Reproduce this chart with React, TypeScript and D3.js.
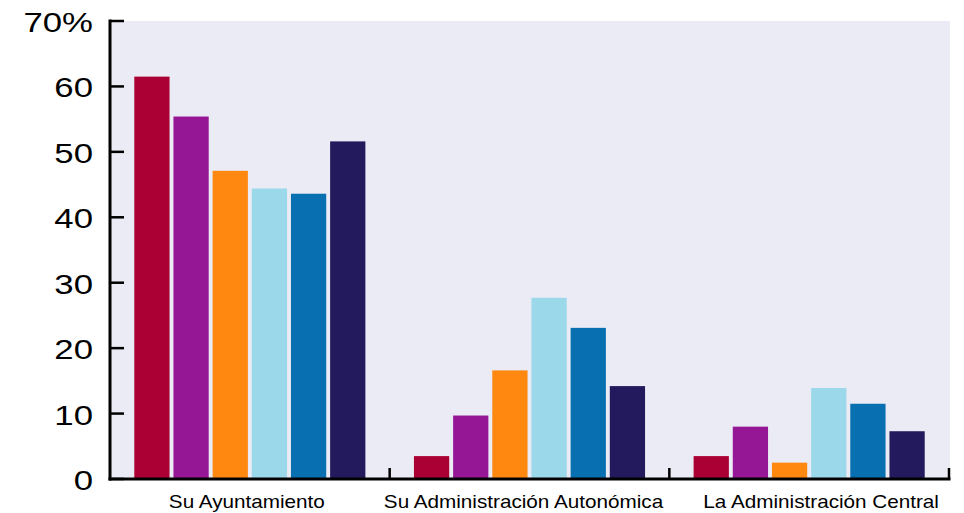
import { useEffect, useRef } from "react"
import * as d3 from "d3"

const categories = ["Su Ayuntamiento", "Su Administración Autonómica", "La Administración Central"]
const seriesNames = ["s1", "s2", "s3", "s4", "s5", "s6"]
const seriesColors = ["#AA0033", "#951795", "#FF8811", "#9BD9EA", "#0870B0", "#231A5E"]
const values: number[][] = [
  [61.5, 55.4, 47.1, 44.4, 43.6, 51.6],
  [3.5, 9.7, 16.6, 27.7, 23.1, 14.2],
  [3.5, 8.0, 2.5, 13.9, 11.5, 7.3],
]
const yTicks = [0, 10, 20, 30, 40, 50, 60, 70]

export default function App() {
  const svgRef = useRef<SVGSVGElement>(null)

  useEffect(() => {
    if (!svgRef.current) return
    const svg = d3.select(svgRef.current)
    svg.selectAll("*").remove()

    const left = 110
    const right = 949
    const top = 21
    const bottom = 479
    const font = "Liberation Sans, Arial, sans-serif"
    // the original text is drawn a bit wider than Arial
    const labelNudge = [-3, -6, 12]

    const x0 = d3.scaleBand<string>().domain(categories).range([left, right]).paddingInner(0).paddingOuter(0)
    const x1 = d3
      .scaleBand<string>()
      .domain(seriesNames)
      .range([0, x0.bandwidth()])
      .paddingInner(0.1)
      .paddingOuter(0.62)
    const y = d3.scaleLinear().domain([0, 70]).range([bottom, top])

    svg
      .append("rect")
      .attr("x", left)
      .attr("y", top)
      .attr("width", right - left + 1)
      .attr("height", bottom - top)
      .attr("fill", "#EBEBF5")

    const groups = svg
      .selectAll(".grp")
      .data(categories)
      .enter()
      .append("g")
      .attr("transform", (d) => `translate(${x0(d)},0)`)

    groups
      .selectAll("rect")
      .data((_, i) => values[i].map((v, j) => ({ v, j })))
      .enter()
      .append("rect")
      .attr("x", (d) => x1(seriesNames[d.j]) as number)
      .attr("width", x1.bandwidth())
      .attr("y", (d) => y(d.v))
      .attr("height", (d) => bottom - y(d.v))
      .attr("fill", (d) => seriesColors[d.j])

    // y axis
    svg
      .append("line")
      .attr("x1", left)
      .attr("x2", left)
      .attr("y1", top - 1.5)
      .attr("y2", bottom + 1.5)
      .attr("stroke", "#000")
      .attr("stroke-width", 3)

    svg
      .selectAll(".ytick")
      .data(yTicks)
      .enter()
      .append("line")
      .attr("x1", left)
      .attr("x2", left + 14)
      .attr("y1", (d) => y(d))
      .attr("y2", (d) => y(d))
      .attr("stroke", "#000")
      .attr("stroke-width", 2.5)

    svg
      .selectAll(".ylab")
      .data(yTicks)
      .enter()
      .append("text")
      .attr("transform", (d) => `translate(93,${y(d) + 11}) scale(1.22,1)`)
      .attr("text-anchor", "end")
      .style("font-family", font)
      .style("font-size", "28.5px")
      .style("fill", "#000")
      .text((d) => (d === 70 ? "70%" : String(d)))

    // x axis
    svg
      .append("line")
      .attr("x1", left - 1.5)
      .attr("x2", right + 1.5)
      .attr("y1", bottom)
      .attr("y2", bottom)
      .attr("stroke", "#000")
      .attr("stroke-width", 3)

    const boundaries = categories.slice(1).map((c) => x0(c) as number).concat([right])
    svg
      .selectAll(".xtick")
      .data(boundaries)
      .enter()
      .append("line")
      .attr("x1", (d) => d)
      .attr("x2", (d) => d)
      .attr("y1", bottom)
      .attr("y2", bottom - 11)
      .attr("stroke", "#000")
      .attr("stroke-width", 2.5)

    svg
      .selectAll(".xlab")
      .data(categories)
      .enter()
      .append("text")
      .attr(
        "transform",
        (d, i) => `translate(${(x0(d) as number) + x0.bandwidth() / 2 + labelNudge[i]},508) scale(1.15,1)`,
      )
      .attr("text-anchor", "middle")
      .style("font-family", font)
      .style("font-size", "18px")
      .style("fill", "#000")
      .text((d) => d)
  }, [])

  return (
    <svg
      ref={svgRef}
      width={964}
      height={513}
      style={{ position: "absolute", left: 0, top: 0, background: "#fff", display: "block" }}
    />
  )
}
